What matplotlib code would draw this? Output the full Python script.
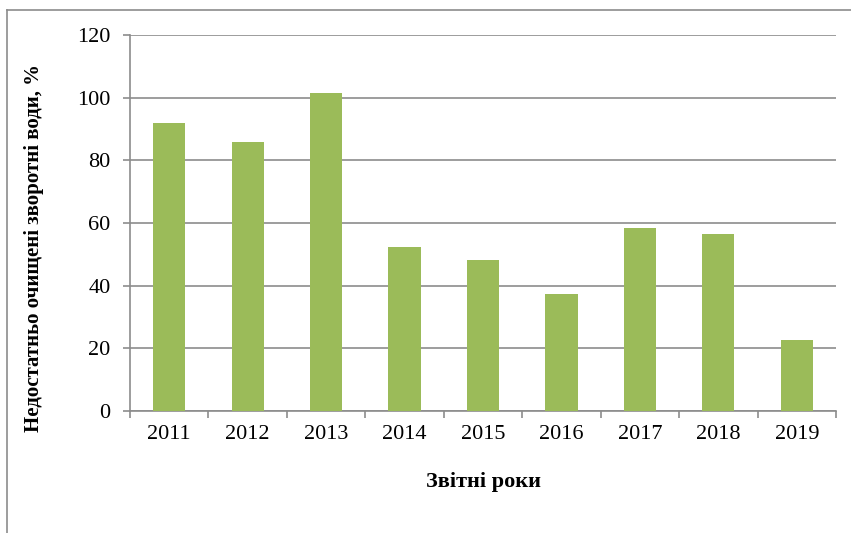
import matplotlib
matplotlib.use("Agg")

import matplotlib.pyplot as plt
from matplotlib.lines import Line2D
import numpy as np

years = ["2011", "2012", "2013", "2014", "2015", "2016", "2017", "2018", "2019"]
values = [92.0, 85.8, 101.5, 52.3, 48.2, 37.3, 58.4, 56.5, 22.7]

W, H = 851, 533
plt.rcParams["font.family"] = ["Liberation Serif", "DejaVu Serif"]

fig = plt.figure(figsize=(W / 100, H / 100), dpi=100)
ax = fig.add_axes([130 / W, 1 - 411 / H, 706 / W, 376 / H])

x = np.arange(len(years))
ax.bar(x, values, width=0.41, color="#9BBB59", zorder=3)

ax.set_xlim(-0.5, len(years) - 0.5)
ax.set_ylim(0, 120)
ax.set_yticks(range(0, 121, 20))
ax.yaxis.grid(True, color="#8C8C8C", linewidth=1.2, zorder=0)

ax.set_xticks(x)
ax.set_xticklabels(years, fontsize=16)
ax.tick_params(axis="x", length=0, pad=10)
ax.set_xticks(np.arange(-0.5, len(years)), minor=True)
ax.tick_params(axis="x", which="minor", length=5, color="#8C8C8C", width=1.2)
ax.tick_params(axis="y", labelsize=16, length=5, color="#8C8C8C", width=1.2, pad=9)

for side in ["top", "right"]:
    ax.spines[side].set_visible(False)
for side in ["left", "bottom"]:
    ax.spines[side].set_color("#8C8C8C")
    ax.spines[side].set_linewidth(1.2)

fig.text(483 / W, 1 - 482 / H, "Звітні роки", fontsize=16, fontweight="bold",
         ha="center", va="center")
fig.text(34 / W, 1 - 248 / H, "Недостатньо очищені зворотні води, %", fontsize=15,
         fontweight="bold", rotation=90, ha="center", va="center")

# outer frame of the chart area
fig.add_artist(Line2D([7 / W, 1], [1 - 10 / H, 1 - 10 / H], color="#8C8C8C", linewidth=1.2))
fig.add_artist(Line2D([7 / W, 7 / W], [0, 1 - 10 / H], color="#8C8C8C", linewidth=1.2))

fig.savefig("out.png", dpi=100)
